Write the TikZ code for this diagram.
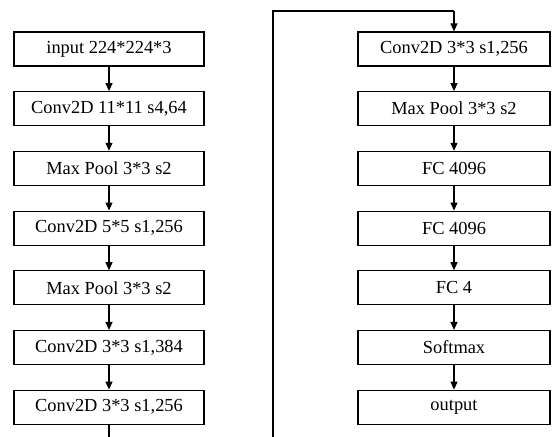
\documentclass[tikz,border=0pt]{standalone}
\usepackage{fontspec}
\setmainfont{Liberation Serif}
\usetikzlibrary{arrows.meta}
\begin{document}
\begin{tikzpicture}[x=1pt,y=-1pt,
  layer/.style={draw=black,line width=1.2pt,minimum width=190pt,minimum height=34pt,
    inner sep=0pt,font=\fontsize{18.4}{22}\selectfont},
  rlayer/.style={layer,minimum width=192pt},
  link/.style={line width=1.2pt,-{Triangle[length=8pt,width=7pt]}},
  wire/.style={line width=1.2pt}]
\useasboundingbox (0,0) rectangle (553,436);
\foreach \n/\t [count=\i from 0] in {l1/input 224*224*3, l2/Conv2D 11*11 s4{,}64, l3/Max Pool 3*3 s2,
  l4/Conv2D 5*5 s1{,}256, l5/Max Pool 3*3 s2, l6/Conv2D 3*3 s1{,}384, l7/Conv2D 3*3 s1{,}256}
  \node[layer] (\n) at (109,{49+59.7*\i}) {\t};
\foreach \n/\t [count=\i from 0] in {r1/Conv2D 3*3 s1{,}256, r2/Max Pool 3*3 s2, r3/FC 4096,
  r4/FC 4096, r5/FC 4, r6/Softmax, r7/output}
  \node[rlayer] (\n) at (454,{49+59.7*\i}) {\t};
\foreach \a/\b in {l1/l2,l2/l3,l3/l4,l4/l5,l5/l6,l6/l7,r1/r2,r2/r3,r3/r4,r4/r5,r5/r6,r6/r7}
  \draw[link] (\a) -- (\b);
\coordinate (c1) at (109,450);
\coordinate (c2) at (273,450);
\coordinate (c3) at (273,11);
\coordinate (c4) at (454,11);
\draw[wire] (l7.south) -- (c1) -- (c2) -- (c3) -- (c4);
\draw[link] (c4) -- (r1.north);
\end{tikzpicture}
\end{document}
